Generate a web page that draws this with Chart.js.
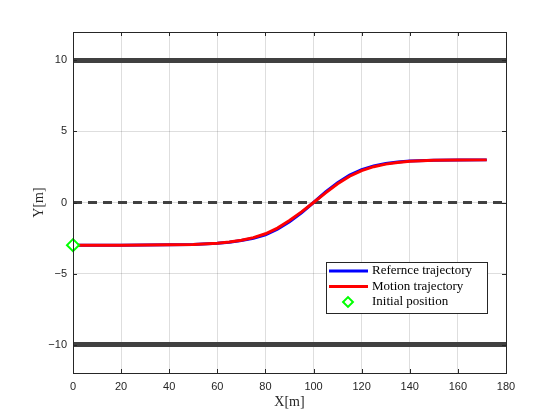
<!DOCTYPE html>
<html>
<head>
<meta charset="utf-8">
<script src="https://cdn.jsdelivr.net/npm/chart.js@4.4.0/dist/chart.umd.min.js"></script>
<style>
  html, body { margin: 0; padding: 0; background: #fff; }
  #wrap { width: 560px; height: 420px; }
</style>
</head>
<body>
<div id="wrap"><canvas id="traj" width="560" height="420"></canvas></div>
<script>
const xs = [0, 10, 20, 30, 40, 50, 60, 65, 70, 75, 80, 85, 90, 95, 100, 105, 110, 115, 120, 125, 130, 135, 140, 150, 160, 172];
const refY = [-3, -3, -3, -2.99, -2.98, -2.95, -2.87, -2.8, -2.68, -2.52, -2.27, -1.88, -1.35, -0.72, 0, 0.74, 1.4, 1.93, 2.32, 2.58, 2.75, 2.85, 2.92, 2.98, 2.99, 3];
const motionY = [-3, -3, -3, -2.99, -2.98, -2.95, -2.86, -2.78, -2.65, -2.47, -2.2, -1.8, -1.27, -0.66, 0, 0.68, 1.32, 1.85, 2.25, 2.52, 2.7, 2.82, 2.9, 2.97, 2.99, 3];
const startPos = [0, -3];
const roadX = [0, 180];
const upperEdge = [10, 10];
const lowerEdge = [-10, -10];
const centerLine = [0, 0];
const xTicks = [0, 20, 40, 60, 80, 100, 120, 140, 160, 180];
const yTicks = [-10, -5, 0, 5, 10];

const toPts = (x, y) => x.map((v, i) => ({ x: v, y: y[i] }));

// box, inward ticks and legend like the matlab figure
const boxPlugin = {
  id: "boxPlugin",
  afterDatasetsDraw(chart) {
    const { ctx, chartArea: a, scales } = chart;
    ctx.save();
    ctx.strokeStyle = "#262626";
    ctx.lineWidth = 1;
    ctx.beginPath();
    xTicks.forEach((t) => {
      const px = Math.round(scales.x.getPixelForValue(t)) + 0.5;
      ctx.moveTo(px, a.bottom); ctx.lineTo(px, a.bottom - 4);
      ctx.moveTo(px, a.top); ctx.lineTo(px, a.top + 4);
    });
    yTicks.forEach((t) => {
      const py = Math.round(scales.y.getPixelForValue(t)) + 0.5;
      ctx.moveTo(a.left, py); ctx.lineTo(a.left + 4, py);
      ctx.moveTo(a.right, py); ctx.lineTo(a.right - 4, py);
    });
    ctx.stroke();
    ctx.strokeRect(Math.round(a.left) + 0.5, Math.round(a.top) + 0.5,
      Math.round(a.right - a.left), Math.round(a.bottom - a.top));

    // legend
    const items = [0, 1, 2].map((i) => chart.data.datasets[i]);
    const bx = 326, by = 262, bw = 161, bh = 51;
    ctx.fillStyle = "#fff";
    ctx.fillRect(bx, by, bw, bh);
    ctx.strokeStyle = "#262626";
    ctx.strokeRect(bx + 0.5, by + 0.5, bw, bh);
    ctx.font = "13px 'Liberation Serif'";
    ctx.textBaseline = "middle";
    items.forEach((ds, i) => {
      const y = by + 9 + i * 15.5;
      if (ds.showLine === false) {
        ctx.save();
        ctx.translate(348, y);
        ctx.rotate(Math.PI / 4);
        ctx.strokeStyle = ds.borderColor;
        ctx.lineWidth = 2;
        ctx.strokeRect(-3.5, -3.5, 7, 7);
        ctx.restore();
      } else {
        ctx.strokeStyle = ds.borderColor;
        ctx.lineWidth = 3;
        ctx.beginPath();
        ctx.moveTo(329, y); ctx.lineTo(368, y);
        ctx.stroke();
      }
      ctx.fillStyle = "#000";
      ctx.fillText(ds.label, 372, y);
    });
    ctx.restore();
  },
};

new Chart(document.getElementById("traj").getContext("2d"), {
  type: "line",
  data: {
    datasets: [
      {
        label: "Refernce trajectory",
        data: toPts(xs, refY),
        borderColor: "#0000ff",
        borderWidth: 3,
        pointRadius: 0,
        order: 2,
      },
      {
        label: "Motion trajectory",
        data: toPts(xs, motionY),
        borderColor: "#ff0000",
        borderWidth: 3,
        pointRadius: 0,
        order: 1,
      },
      {
        label: "Initial position",
        data: [{ x: startPos[0], y: startPos[1] }],
        showLine: false,
        borderColor: "#00ff00",
        backgroundColor: "#fff",
        pointStyle: "rectRot",
        pointRadius: 6,
        pointBorderWidth: 2,
        clip: false,
        order: 0,
      },
      {
        label: "upper",
        data: toPts(roadX, upperEdge),
        borderColor: "#404040",
        borderWidth: 5,
        pointRadius: 0,
        order: 3,
      },
      {
        label: "lower",
        data: toPts(roadX, lowerEdge),
        borderColor: "#404040",
        borderWidth: 5,
        pointRadius: 0,
        order: 3,
      },
      {
        label: "center",
        data: toPts(roadX, centerLine),
        borderColor: "#404040",
        borderWidth: 3,
        borderDash: [9, 6],
        pointRadius: 0,
        order: 3,
      },
    ],
  },
  options: {
    responsive: false,
    animation: false,
    layout: { padding: { top: 32, right: 54, left: 0, bottom: 0 } },
    plugins: { legend: { display: false }, tooltip: { enabled: false } },
    scales: {
      x: {
        type: "linear",
        min: 0,
        max: 180,
        afterBuildTicks: (s) => { s.ticks = xTicks.map((v) => ({ value: v })); },
        afterFit: (s) => { s.height = 47; },
        grid: { color: "rgba(0,0,0,0.13)", drawTicks: false },
        border: { display: false },
        ticks: { color: "#262626", font: { family: "'Liberation Sans'", size: 11 }, padding: 7, maxRotation: 0 },
        title: {
          display: true,
          text: "X[m]",
          color: "#262626",
          font: { family: "'Liberation Serif'", size: 14 },
          padding: { top: 0, bottom: 9 },
        },
      },
      y: {
        min: -12,
        max: 12,
        afterBuildTicks: (s) => { s.ticks = yTicks.map((v) => ({ value: v })); },
        afterFit: (s) => { s.width = 73; },
        grid: { color: "rgba(0,0,0,0.13)", drawTicks: false },
        border: { display: false },
        ticks: {
          color: "#262626",
          font: { family: "'Liberation Sans'", size: 11 },
          padding: 6,
          callback: (v) => (v < 0 ? "\u2212" + Math.abs(v) : String(v)),
        },
        title: {
          display: true,
          text: "Y[m]",
          color: "#262626",
          font: { family: "'Liberation Serif'", size: 14 },
          padding: { top: 31, bottom: 0 },
        },
      },
    },
  },
  plugins: [boxPlugin],
});
</script>
</body>
</html>
